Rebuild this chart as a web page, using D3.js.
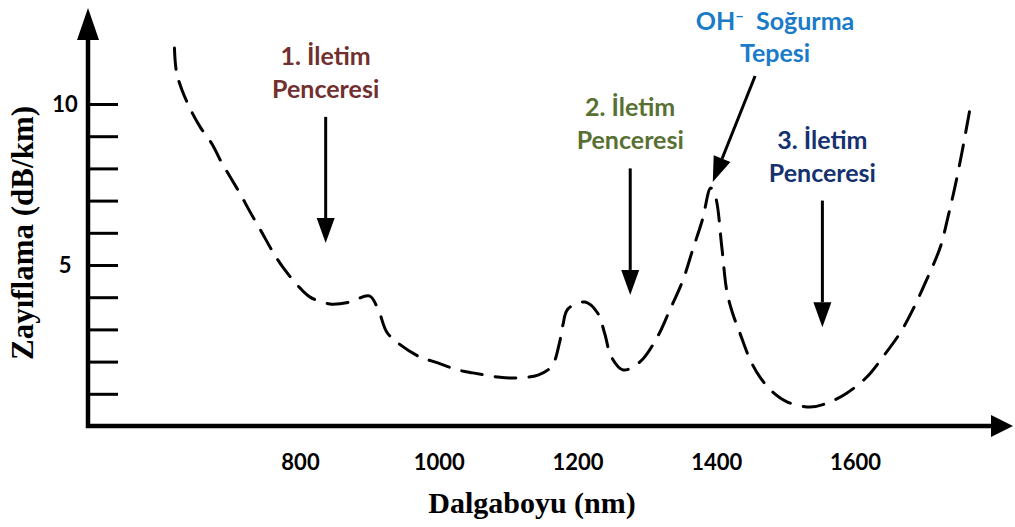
<!DOCTYPE html>
<html>
<head>
<meta charset="utf-8">
<script src="https://cdn.jsdelivr.net/npm/d3@7"></script>
<style>
  body { margin: 0; background: #fff; }
  .lbl { font-family: Lato, "Open Sans", sans-serif; font-weight: bold; }
  .ttl { font-family: "Liberation Serif", "Times New Roman", serif; font-weight: bold; }
</style>
</head>
<body>
<div id="chart"></div>
<script>
// attenuation curve (nm, dB/km)
var wavelength = [619, 622, 630, 644, 656, 674, 685, 702, 713, 728, 743, 761, 775, 796, 814, 843, 872, 900,
  913, 925, 941, 973, 994, 1028, 1049, 1086, 1107, 1143, 1163, 1174, 1179, 1186, 1211, 1229, 1239, 1249,
  1266, 1290, 1315, 1333, 1352, 1366, 1380, 1392, 1399, 1408, 1415, 1423, 1434, 1449, 1463, 1481, 1502,
  1535, 1560, 1588, 1617, 1640, 1665, 1683, 1703, 1723, 1734, 1744, 1754, 1761, 1768];
var attenuation = [11.74, 10.99, 10.43, 9.75, 9.29, 8.73, 8.26, 7.64, 7.24, 6.65, 6.09, 5.40, 4.94, 4.38, 4.01, 3.79, 3.85, 4.04,
  3.60, 2.92, 2.58, 2.14, 1.99, 1.74, 1.65, 1.52, 1.49, 1.58, 1.86, 2.58, 3.14, 3.63, 3.85, 3.51, 2.89, 2.14,
  1.74, 1.99, 2.76, 3.60, 4.53, 5.47, 6.40, 7.39, 7.11, 5.56, 4.22, 3.54, 2.89, 2.05, 1.52, 1.06, 0.75,
  0.59, 0.71, 1.02, 1.52, 2.14, 2.89, 3.60, 4.53, 5.56, 6.49, 7.42, 8.48, 9.29, 10.12];

var xTicks = [800, 1000, 1200, 1400, 1600];
var yTicks = [1, 2, 3, 4, 5, 6, 7, 8, 9, 10];
var yTickLabels = [5, 10];

// transmission windows: arrow position (nm), arrow start and tip (dB/km)
var windowNames = ["1. İletim", "2. İletim", "3. İletim"];
var windowNm = [837, 1276, 1553];
var windowStart = [9.6, 8.0, 7.0];
var windowTip = [5.68, 4.07, 3.07];

// OH- absorption peak arrow (nm, dB/km)
var ohStart = [1456, 10.87];
var ohTip = [1395, 7.58];

var windowColors = ["#722f2f", "#587032", "#14326f"];
var ohColor = "#1a7bc9";

var svgWidth = 1015;
var svgHeight = 527;

var svg = d3.select("#chart")
  .append("svg")
  .attr("width", svgWidth)
  .attr("height", svgHeight);

var xScale = d3.scaleLinear()
  .domain([800, 1600])
  .range([300, 855]);

var yScale = d3.scaleLinear()
  .domain([0, 10])
  .range([426, 104]);

// y ticks (drawn to the right of the axis line)
var yAxis = svg.append("g")
  .attr("transform", "translate(88,0)")
  .call(d3.axisLeft(yScale)
    .tickValues(yTicks)
    .tickSizeInner(-30)
    .tickSizeOuter(0)
    .tickPadding(23)
    .tickFormat(d => yTickLabels.indexOf(d) >= 0 ? d : ""));
yAxis.select(".domain").remove();
yAxis.selectAll(".tick line").attr("stroke", "#000").attr("stroke-width", 3);
yAxis.selectAll(".tick text")
  .attr("class", "lbl")
  .attr("text-anchor", "middle")
  .attr("font-size", 22)
  .attr("fill", "#000");

// x tick labels only
var xAxis = svg.append("g")
  .attr("transform", "translate(0,426)")
  .call(d3.axisBottom(xScale)
    .tickValues(xTicks)
    .tickSize(0)
    .tickPadding(28)
    .tickFormat(d3.format("d")));
xAxis.select(".domain").remove();
xAxis.selectAll(".tick text")
  .attr("class", "lbl")
  .attr("font-size", 22)
  .attr("fill", "#000");

// axis lines with arrow heads
svg.append("path")
  .attr("d", "M88,38 V426 H994")
  .attr("fill", "none")
  .attr("stroke", "#000")
  .attr("stroke-width", 4.5);
svg.append("path")
  .attr("d", "M88,8 L77,40 L99,40 Z")
  .attr("fill", "#000");
svg.append("path")
  .attr("d", "M1013,426 L991,415 L991,437 Z")
  .attr("fill", "#000");

// dashed attenuation curve
var points = wavelength.map((w, i) => [w, attenuation[i]]);
var line = d3.line()
  .x(d => xScale(d[0]))
  .y(d => yScale(d[1]))
  .curve(d3.curveCatmullRom.alpha(0.5));

svg.append("path")
  .datum(points)
  .attr("d", line)
  .attr("fill", "none")
  .attr("stroke", "#000")
  .attr("stroke-width", 3)
  .attr("stroke-dasharray", "21,13")
  .attr("stroke-linecap", "round");

// arrow helper
function arrow(x1, y1, x2, y2) {
  var dx = x2 - x1, dy = y2 - y1;
  var len = Math.sqrt(dx * dx + dy * dy);
  var ux = dx / len, uy = dy / len;
  var head = 25, half = 9;
  var bx = x2 - ux * head, by = y2 - uy * head;
  svg.append("line")
    .attr("x1", x1).attr("y1", y1)
    .attr("x2", bx).attr("y2", by)
    .attr("stroke", "#000")
    .attr("stroke-width", 3);
  svg.append("path")
    .attr("d", `M${x2},${y2} L${bx - uy * half},${by + ux * half} L${bx + uy * half},${by - ux * half} Z`)
    .attr("fill", "#000");
}

windowNm.forEach(function(w, i) {
  var x = xScale(w);
  var top = yScale(windowStart[i]);
  arrow(x, top, x, yScale(windowTip[i]));

  var t = svg.append("text")
    .attr("class", "lbl")
    .attr("text-anchor", "middle")
    .attr("font-size", 25)
    .attr("fill", windowColors[i]);
  t.append("tspan").attr("x", x).attr("y", top - 52).text(windowNames[i]);
  t.append("tspan").attr("x", x).attr("y", top - 19).text("Penceresi");
});

// OH- peak
var ox = xScale(ohStart[0]), oy = yScale(ohStart[1]);
arrow(ox, oy, xScale(ohTip[0]), yScale(ohTip[1]));

var oh = svg.append("text")
  .attr("class", "lbl")
  .attr("text-anchor", "middle")
  .attr("font-size", 25)
  .attr("fill", ohColor)
  .attr("x", ox + 20)
  .attr("y", oy - 46);
oh.append("tspan").text("OH");
oh.append("tspan").attr("font-size", 16).attr("dy", -9).text("\u2012");
oh.append("tspan").attr("dy", 9).text("\u00a0 Soğurma");
svg.append("text")
  .attr("class", "lbl")
  .attr("text-anchor", "middle")
  .attr("font-size", 25)
  .attr("fill", ohColor)
  .attr("x", ox + 20)
  .attr("y", oy - 14)
  .text("Tepesi");

// axis titles
svg.append("text")
  .attr("class", "ttl")
  .attr("text-anchor", "middle")
  .attr("font-size", 30)
  .attr("x", 532)
  .attr("y", 513)
  .text("Dalgaboyu (nm)");

svg.append("text")
  .attr("class", "ttl")
  .attr("text-anchor", "middle")
  .attr("font-size", 31)
  .attr("transform", "translate(33,233) rotate(-90)")
  .text("Zayıflama (dB/km)");
</script>
</body>
</html>
